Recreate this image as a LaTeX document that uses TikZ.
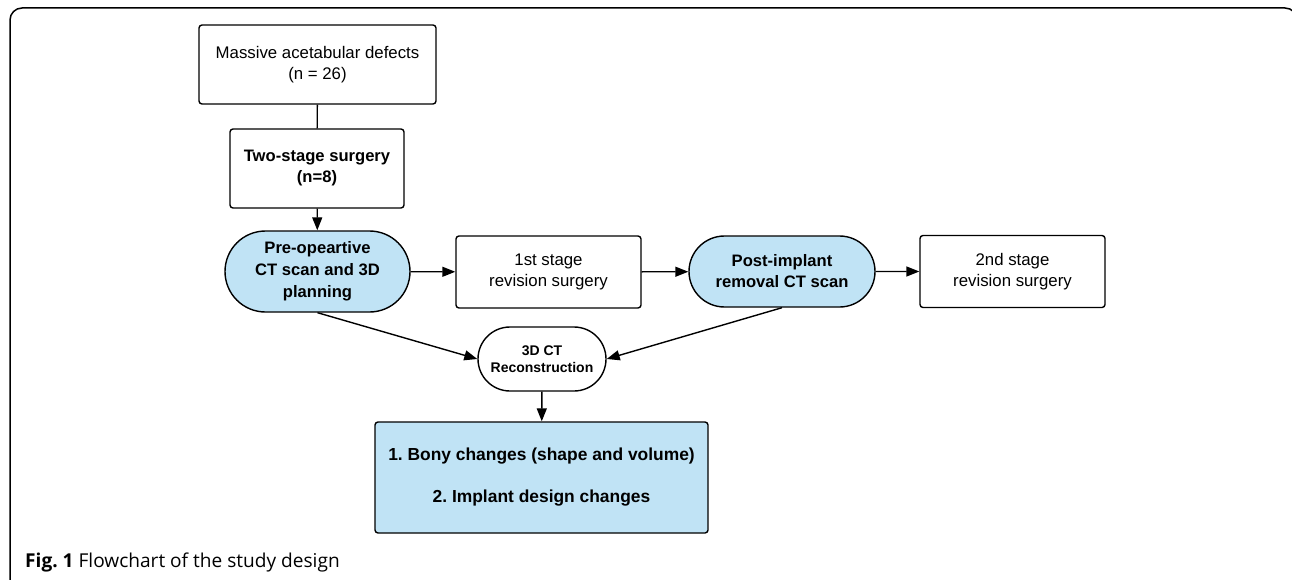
\documentclass[tikz,border=0pt]{standalone}
\usepackage{fontspec}
\setmainfont{Liberation Sans}
\newfontfamily\capfont{Open Sans}
\usetikzlibrary{arrows.meta,shapes.misc}
\definecolor{lblue}{RGB}{192,227,245}
\frenchspacing
\begin{document}
\begin{tikzpicture}[x=1pt,y=-1pt,
  box/.style={draw, line width=1.4pt, rounded corners=3pt, align=center, inner sep=0pt},
  pill/.style={draw, line width=1.4pt, rounded rectangle, align=center, inner sep=0pt},
  arr/.style={line width=1.4pt, -{Triangle[length=13pt,width=10pt]}},
  reg/.style={font=\fontsize{16.8}{20.5}\selectfont},
  bld/.style={font=\fontsize{16.6}{21}\selectfont\bfseries},
]
\useasboundingbox (0,0) rectangle (1292,580);
\begin{scope}
\clip (0,0) rectangle (1292,580);
\draw[line width=1.5pt, rounded corners=12pt] (10,600) -- (10,8) -- (1297,8) -- (1297,600);
\end{scope}

\node[box, reg, minimum width=237pt, minimum height=79pt] (a) at (317.5,64.5) {Massive acetabular defects\\(n = 26)};
\node[box, bld, minimum width=174pt, minimum height=79pt] (b) at (317,168.5) {Two-stage surgery\\(n=8)};
\node[pill, bld, fill=lblue, minimum width=185pt, minimum height=81pt, font=\fontsize{16.6}{22}\selectfont\bfseries] (c) at (317.5,271.5) {Pre-opeartive\\CT scan and 3D\\planning};
\node[box, reg, minimum width=185pt, minimum height=72pt] (d) at (548.5,272) {1st stage\\revision surgery};
\node[pill, bld, fill=lblue, minimum width=186pt, minimum height=71pt] (e) at (782,271.5) {Post-implant\\removal CT scan};
\node[box, reg, minimum width=185pt, minimum height=72pt] (f) at (1012.5,271.5) {2nd stage\\revision surgery};
\node[pill, minimum width=128pt, minimum height=64pt, font=\fontsize{14}{16.5}\selectfont\bfseries] (g) at (542,359) {3D CT\\Reconstruction};
\node[box, fill=lblue, minimum width=333pt, minimum height=111pt, font=\fontsize{17.4}{21}\selectfont\bfseries] (h) at (541.5,477.5) {1. Bony changes (shape and volume)\\[21pt]2. Implant design changes};

\draw[line width=1.4pt] (a) -- (b);
\draw[arr] (b) -- (c);
\draw[arr] (c) -- (d);
\draw[arr] (d) -- (e);
\draw[arr] (e) -- (f);
\draw[arr] (c.south) -- (g.west);
\draw[arr] (e.south) -- (g.east);
\draw[arr] (g) -- (h);

\node[anchor=base west, inner sep=0pt, font=\capfont\fontsize{19.1}{22}\selectfont] (cap) at (25,567) {\textbf{Fig. 1} Flowchart of the study design};
\end{tikzpicture}
\end{document}
